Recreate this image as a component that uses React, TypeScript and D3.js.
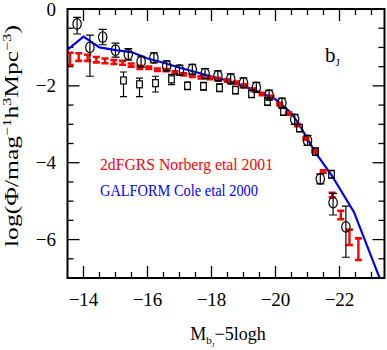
import React from "react";
import * as d3 from "d3";

// ---- data ----
const X_TICK_LABELS = [-14, -16, -18, -20, -22];
const Y_TICK_LABELS = [0, -2, -4, -6];

// open circles with error bars
const circM = [-13.8, -14.2, -14.6, -15.0, -15.4, -15.8, -16.2, -16.6, -17.0, -17.4, -17.8, -18.2, -18.6, -19.0, -19.4, -19.8, -20.2, -20.6, -21.0, -21.4, -21.8, -22.2];
const circV = [-0.39, -1.0, -0.73, -1.07, -1.18, -1.37, -1.27, -1.48, -1.59, -1.57, -1.68, -1.74, -1.82, -1.92, -2.04, -2.24, -2.45, -2.87, -3.42, -4.42, -5.04, -5.67];
const circUp = [0.17, 0.32, 0.2, 0.18, 0.15, 0.14, 0.13, 0.13, 0.13, 0.13, 0.13, 0.13, 0.13, 0.13, 0.13, 0.13, 0.13, 0.13, 0.13, 0.13, 0.24, 0.54];
const circDn = [0.26, 0.75, 0.2, 0.18, 0.15, 0.14, 0.13, 0.13, 0.13, 0.13, 0.13, 0.13, 0.13, 0.13, 0.13, 0.13, 0.13, 0.13, 0.13, 0.13, 0.32, 0.79];

// open squares with error bars
const sqM = [-15.25, -15.75, -16.25, -16.75, -17.25, -17.75, -18.25, -18.75, -19.25, -19.75, -20.25, -20.75, -21.25, -21.75];
const sqV = [-1.86, -1.96, -1.93, -1.83, -2.0, -2.01, -2.05, -2.11, -2.21, -2.41, -2.67, -3.1, -3.71, -4.3];
const sqUp = [0.22, 0.16, 0.18, 0.13, 0.1, 0.1, 0.1, 0.1, 0.1, 0.1, 0.1, 0.1, 0.1, 0.1];
const sqDn = [0.42, 0.32, 0.23, 0.14, 0.1, 0.1, 0.1, 0.1, 0.1, 0.1, 0.1, 0.1, 0.1, 0.1];

// 2dFGRS Norberg et al 2001 (red)
const redM = [-13.58, -13.85, -14.13, -14.4, -14.67, -14.95, -15.22, -15.49, -15.76, -16.04, -16.31, -16.58, -16.86, -17.13, -17.4, -17.67, -17.95, -18.22, -18.49, -18.77, -19.04, -19.31, -19.58, -19.86, -20.13, -20.4, -20.68, -20.95, -21.22, -21.49, -21.77, -22.04, -22.31, -22.59];
const redV = [-1.3, -1.25, -1.27, -1.32, -1.35, -1.38, -1.4, -1.46, -1.52, -1.53, -1.58, -1.59, -1.65, -1.7, -1.74, -1.78, -1.8, -1.83, -1.86, -1.92, -1.99, -2.1, -2.21, -2.29, -2.48, -2.72, -3.02, -3.37, -3.7, -4.23, -4.84, -5.36, -5.94, -6.25];
const redErr = [0.16, 0.1, 0.08, 0.07, 0.06, 0.05, 0.05, 0.04, 0.04, 0.03, 0.03, 0.03, 0.03, 0.03, 0.03, 0.03, 0.03, 0.03, 0.03, 0.03, 0.03, 0.03, 0.03, 0.03, 0.03, 0.03, 0.03, 0.03, 0.03, 0.03, 0.06, 0.11, 0.2, 0.28];

// GALFORM Cole et al 2000 (blue line)
const bluM = [-13.5, -14.0, -14.5, -15.0, -15.5, -16.0, -16.5, -17.0, -17.5, -18.0, -18.5, -19.0, -19.5, -20.0, -20.5, -20.75, -21.0, -21.25, -21.75, -22.45, -23.3];
const bluV = [-1.06, -0.72, -1.0, -1.07, -1.12, -1.29, -1.4, -1.53, -1.64, -1.76, -1.86, -2.0, -2.17, -2.35, -2.71, -3.02, -3.38, -3.74, -4.32, -5.28, -7.1];

const W = 387;
const H = 350;
const L = 67.5, R = 384.5, T = 9, B = 278;

export default function App() {
  const x = d3.scaleLinear().domain([-13.5, -13.5 - (R - L) / 32]).range([L, R]);
  const y = d3.scaleLinear().domain([0, -7]).range([T, B]);

  const xMinor = d3.range(-14, -23.41, -0.5);
  const yMinor = d3.range(0, -7.01, -0.5);
  const isMaj = (v: number) => Math.abs(v / 2 - Math.round(v / 2)) < 1e-6;

  const line = d3.line<number>().x((d) => x(bluM[d])).y((d) => y(bluV[d]));
  const font = "'Liberation Serif', 'Times New Roman', serif";

  return (
    <svg width={W} height={H} style={{ position: "absolute", left: 0, top: 0, background: "#fff" }} fontFamily={font}>
      <defs>
        <clipPath id="plotclip">
          <rect x={L} y={T} width={R - L} height={B - T} />
        </clipPath>
      </defs>

      {/* ticks */}
      <g stroke="#000" strokeWidth={1.3}>
        {xMinor.map((v, i) => {
          const len = isMaj(v) ? 12 : 6;
          return (
            <g key={"xt" + i}>
              <line x1={x(v)} x2={x(v)} y1={B} y2={B - len} />
              <line x1={x(v)} x2={x(v)} y1={T} y2={T + len} />
            </g>
          );
        })}
        {yMinor.map((v, i) => {
          const len = isMaj(v) ? 12 : 6;
          return (
            <g key={"yt" + i}>
              <line x1={L} x2={L + len} y1={y(v)} y2={y(v)} />
              <line x1={R} x2={R - len} y1={y(v)} y2={y(v)} />
            </g>
          );
        })}
      </g>

      {/* data */}
      <g clipPath="url(#plotclip)">
        <path d={line(d3.range(bluM.length)) || ""} fill="none" stroke="#0000ff" strokeWidth={2.2} />

        {/* red 2dFGRS */}
        <g stroke="#ff0000">
          {redM.map((m, i) => {
            const cx = x(m);
            const y1 = y(redV[i] + redErr[i]);
            const y2 = y(redV[i] - redErr[i]);
            return (
              <g key={"r" + i}>
                <line x1={cx} x2={cx} y1={y1} y2={y2} strokeWidth={2.4} />
                <line x1={cx - 3.5} x2={cx + 3.5} y1={y1} y2={y1} strokeWidth={2.6} />
                <line x1={cx - 3.5} x2={cx + 3.5} y1={y2} y2={y2} strokeWidth={2.6} />
              </g>
            );
          })}
        </g>

        {/* squares */}
        <g stroke="#000" strokeWidth={1.2} fill="none">
          {sqM.map((m, i) => {
            const cx = x(m);
            const cy = y(sqV[i]);
            const y1 = y(sqV[i] + sqUp[i]);
            const y2 = y(sqV[i] - sqDn[i]);
            return (
              <g key={"s" + i}>
                <line x1={cx} x2={cx} y1={y1} y2={cy - 3.5} />
                <line x1={cx} x2={cx} y1={cy + 3.5} y2={y2} />
                <line x1={cx - 3.5} x2={cx + 3.5} y1={y1} y2={y1} />
                <line x1={cx - 3.5} x2={cx + 3.5} y1={y2} y2={y2} />
                <rect x={cx - 2.8} y={cy - 3.5} width={5.6} height={7} />
              </g>
            );
          })}
        </g>

        {/* circles */}
        <g stroke="#000" strokeWidth={1.2} fill="none">
          {circM.map((m, i) => {
            const cx = x(m);
            const cy = y(circV[i]);
            const y1 = y(circV[i] + circUp[i]);
            const y2 = y(circV[i] - circDn[i]);
            return (
              <g key={"c" + i}>
                <line x1={cx} x2={cx} y1={y1} y2={y2} />
                <line x1={cx - 4} x2={cx + 4} y1={y1} y2={y1} />
                <line x1={cx - 4} x2={cx + 4} y1={y2} y2={y2} />
                <ellipse cx={cx} cy={cy} rx={4.2} ry={5.3} />
              </g>
            );
          })}
        </g>
      </g>

      {/* frame */}
      <rect x={L} y={T} width={R - L} height={B - T} fill="none" stroke="#000" strokeWidth={2} />

      {/* tick labels */}
      <g fontSize={19} fill="#000">
        {X_TICK_LABELS.map((v) => (
          <text key={"xl" + v} x={x(v)} y={306} textAnchor="middle">
            {"\u2212" + Math.abs(v)}
          </text>
        ))}
        {Y_TICK_LABELS.map((v) => (
          <text key={"yl" + v} x={56} y={y(v) + 6.5} textAnchor="end">
            {v === 0 ? "0" : "\u2212" + Math.abs(v)}
          </text>
        ))}
      </g>

      {/* axis titles */}
      <text x={228} y={340} textAnchor="middle" fontSize={18} fill="#000">
        M<tspan fontSize={11} dy={4}>b</tspan>
        <tspan fontSize={7} dy={3}>J</tspan>
        <tspan fontSize={18} dy={-7}>{"\u22125logh"}</tspan>
      </text>
      <text transform="translate(18,136) rotate(-90)" textAnchor="middle" fontSize={19} fill="#000"
        textLength={222} lengthAdjust="spacingAndGlyphs">
        log(Φ/mag<tspan fontSize={12} dy={-7}>{"\u22121"}</tspan>
        <tspan fontSize={19} dy={7}>h</tspan>
        <tspan fontSize={12} dy={-7}>3</tspan>
        <tspan fontSize={19} dy={7}>Mpc</tspan>
        <tspan fontSize={12} dy={-7}>{"\u22123"}</tspan>
        <tspan fontSize={19} dy={7}>)</tspan>
      </text>

      {/* band label */}
      <text x={325} y={62} fontSize={21} fill="#000">
        b<tspan fontSize={11} dy={4}>J</tspan>
      </text>

      {/* legend */}
      <text x={100} y={170} fontSize={17} fill="#ff0000" textLength={173} lengthAdjust="spacingAndGlyphs">2dFGRS Norberg etal 2001</text>
      <text x={100} y={196} fontSize={17} fill="#0000ff" textLength={158} lengthAdjust="spacingAndGlyphs">GALFORM Cole etal 2000</text>
    </svg>
  );
}
